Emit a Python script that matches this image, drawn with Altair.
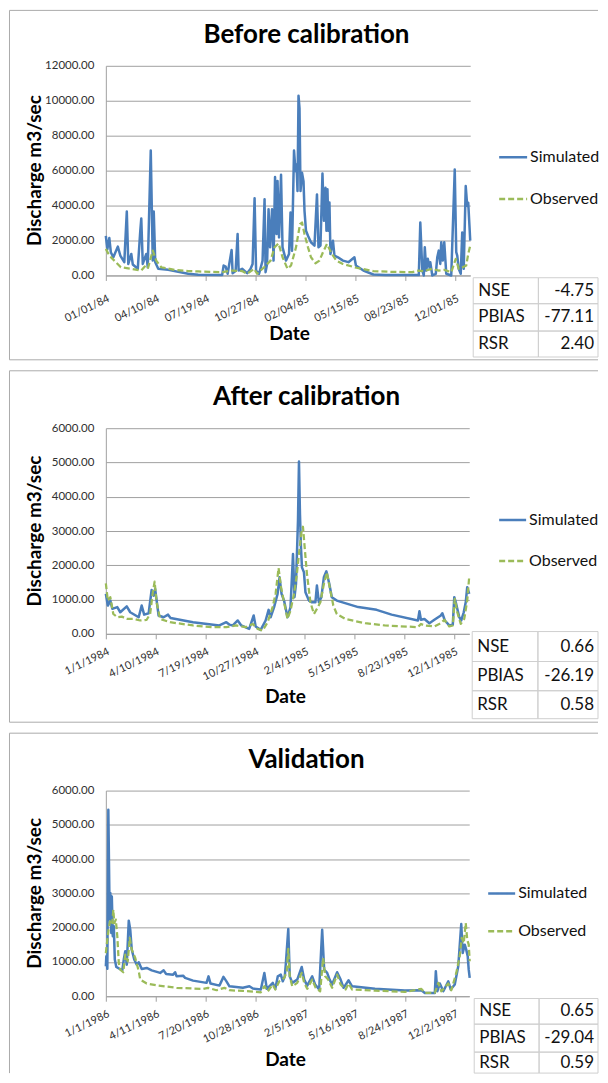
import altair as alt
import pandas as pd

FONT = "Lato"
BLUE = "#4A7EBB"
GREEN = "#9BBB59"
GRID = "#A0A0A0"
LABEL = "#303030"
FRAME = "#ABABAB"
CELL = "#CFCFCF"

# ---------------- data ----------------
titles = ["Before calibration", "After calibration", "Validation"]
series_names = ["Simulated", "Observed"]
stat_names = ["NSE", "PBIAS", "RSR"]
stats_p1 = ["-4.75", "-77.11", "2.40"]
stats_p2 = ["0.66", "-26.19", "0.58"]
stats_p3 = ["0.65", "-29.04", "0.59"]

y_ticks_p1 = [0, 2000, 4000, 6000, 8000, 10000, 12000]
y_ticks_p23 = [0, 1000, 2000, 3000, 4000, 5000, 6000]

p12_start, p12_end = "1984-01-01", "1985-12-31"
p3_start, p3_end = "1986-01-01", "1987-12-31"
x_ticks_p12 = ["1984-01-01", "1984-04-10", "1984-07-19", "1984-10-27",
               "1985-02-04", "1985-05-15", "1985-08-23", "1985-12-01"]
x_ticks_p3 = ["1986-01-01", "1986-04-11", "1986-07-20", "1986-10-28",
              "1987-02-05", "1987-05-16", "1987-08-24", "1987-12-02"]

# Panel 1 (days after 1984-01-01, discharge m3/s)
p1_sim_days = [0, 3, 7, 10, 15, 24, 29, 37, 42, 45, 51, 54, 64, 69, 71, 74, 81, 84, 90, 94,
               96, 99, 105, 125, 165, 185, 233, 236, 240, 244, 252, 254, 260, 264, 266, 273, 283, 290, 294, 298,
               301, 307, 314, 318, 320, 323, 326, 329, 333, 336, 339, 342, 344, 347, 351, 354, 361, 367, 370, 373,
               377, 380, 382, 384, 386, 388, 390, 393, 396, 398, 401, 405, 411, 418, 423, 426, 430, 434, 437, 440,
               442, 444, 446, 448, 450, 455, 458, 465, 475, 486, 498, 501, 516, 536, 560, 627, 630, 634, 637, 639,
               642, 645, 649, 650, 654, 661, 664, 667, 670, 672, 675, 678, 682, 692, 699, 702, 704, 707, 711, 714,
               717, 721, 724, 726, 729, 730]
p1_sim_vals = [2270, 1500, 2140, 1330, 1040, 1650, 1140, 760, 3660, 660, 1230, 630, 380, 2560, 3260, 660, 1230, 470, 7150, 850,
               3660, 760, 380, 320, 95, 40, 20, 570, 510, 95, 1460, 130, 250, 2370, 280, 380, 130, 380, 660, 4420,
               285, 95, 850, 4360, 190, 660, 3790, 1610, 3790, 850, 5630, 2370, 5400, 2180, 5760, 1610, 850, 1230, 3600, 1420,
               7150, 5970, 6350, 4830, 10290, 9570, 4830, 5880, 5400, 3700, 2560, 2270, 1900, 1710, 4640, 1610, 1710, 5840, 3130, 5020,
               2560, 4930, 2560, 4170, 1230, 1990, 1140, 1040, 850, 760, 1040, 570, 280, 55, 20, 20, 3030, 280, 0, 1610,
               280, 950, 380, 760, 0, 95, 1040, 1420, 660, 1900, 850, 1900, 95, 0, 6070, 1330, 1140, 380, 95, 2460,
               380, 5120, 3980, 4170, 2560, 1990]
p1_obs_days = [0, 7, 17, 30, 51, 71, 78, 84, 94, 101, 111, 138, 165, 185, 233, 253, 273, 283, 297, 303,
               317, 330, 338, 346, 354, 364, 371, 381, 389, 393, 398, 405, 411, 420, 428, 435, 443, 452, 462, 475,
               502, 536, 570, 614, 627, 637, 654, 667, 678, 692, 701, 707, 715, 722, 726, 730]
p1_obs_vals = [1520, 1140, 850, 470, 380, 280, 510, 380, 1420, 850, 470, 320, 250, 230, 190, 280, 250, 95, 380, 95,
               470, 850, 1610, 1840, 1040, 380, 570, 1610, 2940, 3030, 2370, 1610, 1040, 700, 850, 1330, 1800, 1270, 850, 660,
               440, 250, 210, 190, 280, 250, 380, 280, 320, 190, 950, 380, 470, 570, 1230, 1710]

# Panel 2 (days after 1984-01-01)
p2_sim_days = [0, 4, 9, 13, 23, 29, 42, 49, 66, 72, 77, 86, 92, 96, 99, 106, 116, 125, 130, 175,
               228, 242, 248, 255, 265, 272, 288, 297, 301, 311, 321, 327, 331, 338, 345, 349, 353, 358, 365, 371,
               376, 379, 382, 386, 388, 390, 392, 394, 398, 401, 408, 414, 421, 424, 428, 433, 438, 443, 449, 454,
               464, 507, 544, 574, 627, 630, 633, 640, 650, 660, 673, 676, 681, 690, 697, 700, 703, 710, 714, 719,
               723, 726, 730]
p2_sim_vals = [1165, 825, 970, 730, 780, 630, 800, 630, 485, 825, 560, 600, 1280, 1115, 1310, 535, 485, 560, 465, 340,
               245, 340, 270, 245, 390, 245, 145, 535, 215, 115, 390, 700, 485, 780, 1165, 1650, 1165, 970, 485, 780,
               2330, 1070, 1455, 3300, 5030, 3495, 2525, 1940, 1795, 1215, 970, 920, 920, 1410, 920, 1070, 1650, 1825, 1455, 1070,
               970, 780, 700, 560, 390, 660, 410, 435, 310, 410, 535, 600, 390, 245, 270, 1070, 920, 485, 390, 630,
               920, 1360, 1165]
p2_obs_days = [0, 4, 9, 15, 23, 32, 42, 56, 69, 82, 89, 94, 98, 102, 109, 129, 175, 215, 242, 262,
               281, 295, 305, 315, 325, 335, 341, 347, 352, 358, 365, 371, 378, 383, 388, 393, 396, 400, 404, 411,
               418, 424, 431, 438, 444, 451, 457, 464, 481, 521, 560, 627, 633, 640, 660, 673, 680, 690, 697, 701,
               706, 713, 720, 726, 730]
p2_obs_vals = [1475, 970, 1070, 580, 485, 505, 435, 435, 390, 410, 580, 1165, 1525, 920, 435, 340, 245, 195, 195, 245,
               195, 290, 145, 95, 340, 780, 1165, 1920, 1360, 920, 435, 680, 1165, 1650, 2330, 2960, 3125, 2430, 1750, 920,
               580, 730, 920, 1455, 1795, 1260, 825, 580, 435, 310, 245, 195, 290, 245, 215, 310, 410, 215, 245, 1020,
               630, 290, 435, 970, 1670]

# Panel 3 (days after 1986-01-01)
p3_sim_days = [0, 1, 3, 5, 7, 8, 9, 11, 12, 14, 16, 18, 21, 28, 33, 36, 39, 42, 46, 49,
               52, 57, 62, 66, 72, 82, 92, 109, 116, 121, 135, 139, 142, 155, 159, 175, 202, 206, 210, 228,
               236, 242, 248, 275, 288, 295, 311, 318, 323, 335, 340, 345, 351, 355, 359, 361, 366, 369, 374, 384,
               393, 398, 404, 414, 420, 428, 434, 438, 444, 449, 454, 464, 471, 477, 487, 494, 540, 600, 633, 640,
               660, 662, 665, 670, 677, 687, 692, 700, 707, 713, 716, 720, 723, 726, 728, 730]
p3_sim_vals = [875, 1165, 800, 5440, 3105, 2235, 3010, 1845, 2910, 1750, 2040, 1070, 855, 795, 755, 1070, 1310, 920, 2205, 1940,
               1360, 1070, 920, 990, 795, 825, 755, 680, 755, 650, 630, 700, 580, 600, 535, 455, 390, 580, 370, 310,
               565, 435, 290, 245, 290, 225, 195, 680, 215, 390, 215, 580, 630, 435, 580, 920, 1960, 580, 390, 485,
               855, 485, 310, 580, 340, 195, 1940, 775, 680, 485, 340, 700, 485, 245, 465, 290, 215, 165, 175, 95,
               95, 730, 145, 370, 145, 435, 195, 340, 875, 2105, 1260, 1505, 1360, 1165, 775, 535]
p3_obs_days = [0, 3, 6, 9, 13, 15, 17, 20, 23, 26, 29, 35, 39, 44, 48, 52, 59, 66, 69, 82,
               102, 142, 195, 205, 222, 238, 248, 275, 311, 318, 325, 335, 340, 348, 358, 363, 366, 369, 374, 384,
               393, 398, 404, 414, 421, 430, 436, 440, 446, 454, 464, 471, 481, 487, 494, 540, 600, 633, 640, 660,
               667, 673, 687, 693, 703, 710, 714, 718, 722, 725, 728, 730]
p3_obs_vals = [1260, 1650, 1990, 2235, 2135, 2525, 2135, 2235, 1750, 970, 775, 700, 1215, 1020, 1700, 1360, 1115, 730, 485, 370,
               320, 245, 215, 245, 175, 245, 175, 155, 115, 290, 145, 340, 195, 435, 535, 730, 1380, 580, 290, 390,
               680, 390, 215, 485, 245, 145, 1115, 580, 485, 245, 630, 340, 195, 370, 195, 165, 125, 215, 95, 95,
               390, 145, 370, 175, 680, 1165, 1700, 1555, 2135, 1650, 1505, 1020]


# ---------------- helpers ----------------
def ms(s):
    return int(pd.Timestamp(s, tz="UTC").value // 10**6)


def to_df(start, days, vals):
    base = pd.Timestamp(start)
    return pd.DataFrame({
        "date": [(base + pd.Timedelta(days=int(d))).strftime("%Y-%m-%d") for d in days],
        "value": vals,
    })


def panel(title, start, end, xticks, xfmt, sim, obs, yticks, stats, L):
    ox, oy = L["ox"], L["oy"]          # page position of the plot origin

    def rx(v):
        return v - ox

    def ry(v):
        return v - oy

    x_scale = alt.Scale(type="utc", domain=[ms(start), ms(end)])
    y_scale = alt.Scale(domain=[0, yticks[-1]], nice=False, zero=True)
    x_axis = alt.Axis(
        values=[ms(t) for t in xticks], labelExpr=f"utcFormat(datum.value, '{xfmt}')",
        labelAngle=-26, labelAlign="right", labelBaseline="top", labelPadding=L["lpad"],
        labelFont=FONT, labelFontSize=11, labelColor=LABEL,
        labelFlush=False, labelOverlap=False,
        ticks=True, tickSize=5, tickColor=GRID, domainColor=GRID, domainWidth=1,
        grid=False, title="",
    )
    y_axis = alt.Axis(
        values=yticks, format=".2f",
        labelFont=FONT, labelFontSize=11.5, labelColor=LABEL, labelPadding=12,
        ticks=False, domainColor=GRID, domainWidth=1,
        grid=True, gridColor=GRID, gridWidth=1, title="",
    )
    enc = dict(
        x=alt.X("date:T", scale=x_scale, axis=x_axis),
        y=alt.Y("value:Q", scale=y_scale, axis=y_axis),
    )
    sim_line = alt.Chart(sim).mark_line(color=BLUE, strokeWidth=2.5, strokeJoin="round").encode(**enc)
    obs_line = alt.Chart(obs).mark_line(color=GREEN, strokeWidth=2.25, strokeDash=[6, 3],
                                        strokeJoin="round").encode(**enc)

    # panel frame: left, top and (when inside the page) bottom edges
    fx0, fx1, fy0, fy1 = rx(L["frame"][0]), rx(L["frame"][1]), ry(L["frame"][2]), ry(L["frame"][3])
    segs = [(fx0, fx1, fy0, fy0), (fx0, fx0, fy0, fy1)]
    if L["frame_bottom"]:
        segs.append((fx0, fx1, fy1, fy1))
    frame_df = pd.DataFrame(segs, columns=["a", "b", "c", "d"])
    frame = alt.Chart(frame_df).mark_rule(color=FRAME, strokeWidth=1).encode(
        x=alt.X("a:Q", scale=None, axis=None), x2="b",
        y=alt.Y("c:Q", scale=None, axis=None), y2="d",
    )

    txt = pd.DataFrame({"t": [title], "xt": ["Date"], "yt": ["Discharge m3/sec"]})
    ttl = alt.Chart(txt).mark_text(font=FONT, fontSize=26, fontWeight="bold", color="#000000",
                                   align="center", baseline="alphabetic").encode(
        text="t:N", x=alt.value(rx(L["title"][0])), y=alt.value(ry(L["title"][1])),
    )
    xt = alt.Chart(txt).mark_text(font=FONT, fontSize=19, fontWeight="bold", color="#000000",
                                  align="center", baseline="alphabetic").encode(
        text="xt:N", x=alt.value(rx(L["xtitle"][0])), y=alt.value(ry(L["xtitle"][1])),
    )
    yt = alt.Chart(txt).mark_text(font=FONT, fontSize=19, fontWeight="bold", color="#000000",
                                  align="center", baseline="alphabetic", angle=270).encode(
        text="yt:N", x=alt.value(rx(L["ytitle"])), y=alt.value(L["H"] / 2),
    )

    leg = pd.DataFrame({"name": series_names, "ly": [ry(v) for v in L["leg_y"]]})
    lx0, lx1 = rx(L["leg_x"][0]), rx(L["leg_x"][1])
    leg_rule = alt.Chart(leg).mark_rule(strokeWidth=2.5).encode(
        x=alt.value(lx0), x2=alt.value(lx1),
        y=alt.Y("ly:Q", scale=None, axis=None),
        color=alt.Color("name:N", scale=alt.Scale(domain=series_names, range=[BLUE, GREEN]), legend=None),
        strokeDash=alt.StrokeDash("name:N", scale=alt.Scale(domain=series_names, range=[[1, 0], [6, 3]]),
                                  legend=None),
    )
    leg_text = alt.Chart(leg).mark_text(font=FONT, fontSize=16, color="#111111", align="left",
                                        baseline="middle").encode(
        text="name:N", x=alt.value(lx1 + 3), y=alt.Y("ly:Q", scale=None, axis=None),
    )

    rows = [ry(v) for v in L["rows"]]
    tab = pd.DataFrame({
        "name": stat_names, "val": stats,
        "top": rows[:-1], "bot": rows[1:],
        "mid": [(a + b) / 2 for a, b in zip(rows[:-1], rows[1:])],
    })
    cx0, cxm, cx1 = [rx(v) for v in L["cols"]]
    cell1 = alt.Chart(tab).mark_rect(fill="transparent", stroke=CELL, strokeWidth=1).encode(
        x=alt.value(cx0), x2=alt.value(cxm),
        y=alt.Y("top:Q", scale=None, axis=None), y2="bot",
    )
    cell2 = alt.Chart(tab).mark_rect(fill="transparent", stroke=CELL, strokeWidth=1).encode(
        x=alt.value(cxm), x2=alt.value(cx1),
        y=alt.Y("top:Q", scale=None, axis=None), y2="bot",
    )
    lab = alt.Chart(tab).mark_text(font=FONT, fontSize=17, color="#111111", align="left",
                                   baseline="middle").encode(
        text="name:N", x=alt.value(cx0 + 5), y=alt.Y("mid:Q", scale=None, axis=None),
    )
    val = alt.Chart(tab).mark_text(font=FONT, fontSize=17, color="#111111", align="right",
                                   baseline="middle").encode(
        text="val:N", x=alt.value(cx1 - 4), y=alt.Y("mid:Q", scale=None, axis=None),
    )

    return alt.layer(frame, sim_line, obs_line, ttl, xt, yt, leg_rule, leg_text,
                     cell1, cell2, lab, val).properties(width=L["W"], height=L["H"])


# layout, in page pixels (the whole drawing stays inside x 8..600, y 8..1075)
L1 = dict(ox=106, oy=65, W=365, H=210, lpad=12,
          frame=(9.5, 599, 9.5, 359.5), frame_bottom=True,
          title=(307, 41.7), xtitle=(290, 340), ytitle=41,
          leg_x=(500, 528), leg_y=(156.7, 198.3),
          cols=(474, 539.3, 599), rows=(277.3, 303.3, 330.7, 356.7))
L2 = dict(ox=106, oy=428, W=364, H=206, lpad=6.5,
          frame=(9.5, 599, 370.5, 722.5), frame_bottom=True,
          title=(307, 405), xtitle=(286, 703), ytitle=41,
          leg_x=(500, 527), leg_y=(520, 561),
          cols=(473, 538.8, 599), rows=(631.7, 661.7, 691, 719))
L3 = dict(ox=106, oy=791, W=364, H=206, lpad=6.5,
          frame=(9.5, 599, 733.5, 1074), frame_bottom=False,
          title=(307, 768.3), xtitle=(286, 1066.7), ytitle=41,
          leg_x=(489, 516), leg_y=(894, 932),
          cols=(475, 540, 599), rows=(999.3, 1025, 1053, 1074))

c1 = panel(titles[0], p12_start, p12_end, x_ticks_p12, "%m/%d/%y",
           to_df(p12_start, p1_sim_days, p1_sim_vals), to_df(p12_start, p1_obs_days, p1_obs_vals),
           y_ticks_p1, stats_p1, L1)
c2 = panel(titles[1], p12_start, p12_end, x_ticks_p12, "%-m/%-d/%Y",
           to_df(p12_start, p2_sim_days, p2_sim_vals), to_df(p12_start, p2_obs_days, p2_obs_vals),
           y_ticks_p23, stats_p2, L2)
c3 = panel(titles[2], p3_start, p3_end, x_ticks_p3, "%-m/%-d/%Y",
           to_df(p3_start, p3_sim_days, p3_sim_vals), to_df(p3_start, p3_obs_days, p3_obs_vals),
           y_ticks_p23, stats_p3, L3)

chart = alt.vconcat(c1, c2, c3, spacing=8).properties(
    padding=0, background="white"
).configure_view(stroke="transparent")

chart.save("out.html", embed_options={"renderer": "svg", "actions": False})
